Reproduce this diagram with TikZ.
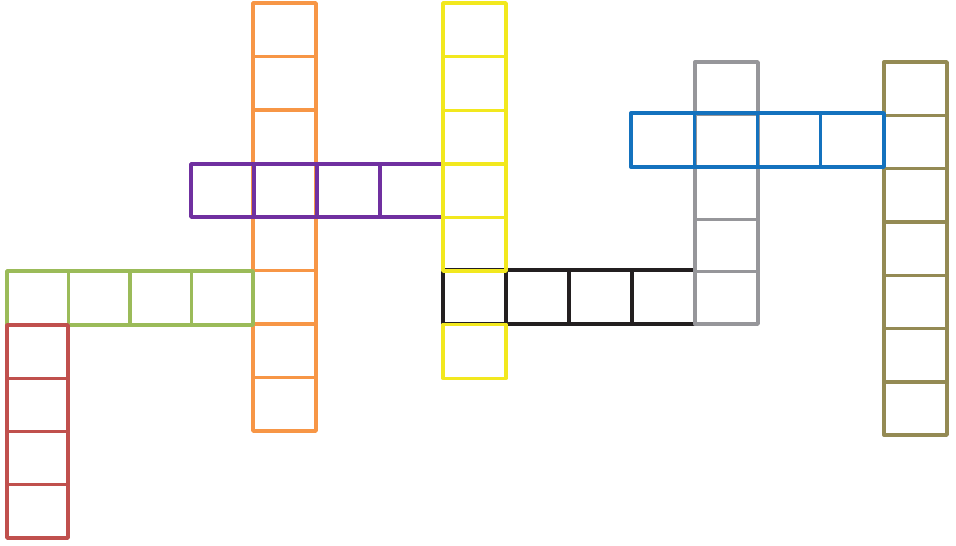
\documentclass[tikz,border=0pt]{standalone}
\usepackage{tikz}
\usetikzlibrary{positioning}
\definecolor{cOr}{RGB}{247,150,70}
\definecolor{cYe}{RGB}{242,232,30}
\definecolor{cPu}{RGB}{112,48,160}
\definecolor{cGr}{RGB}{155,187,89}
\definecolor{cRe}{RGB}{192,80,77}
\definecolor{cBk}{RGB}{35,31,32}
\definecolor{cGy}{RGB}{150,150,154}
\definecolor{cBl}{RGB}{20,114,190}
\definecolor{cOl}{RGB}{148,138,84}
\begin{document}
\begin{tikzpicture}[x=1pt, y=-1pt, cell/.style={line width=3.4pt, line join=round}]

    \useasboundingbox (0, 0) rectangle (956, 546);

    % --- Words: x, y, cells, step x, step y, width, height, colour ---
    \foreach \x/\y/\n/\dx/\dy/\w/\h/\c in {
        253/3/8/0/53.5/63/53.5/cOr,
        191/164/4/63/0/63/53/cPu,
        7/271/4/61.5/0/61.5/54/cGr,
        7/325/4/0/53.25/61/53.25/cRe,
        443/270/4/63/0/63/54/cBk%
    } {
        \foreach \k in {1,...,\n}
            \draw[cell, \c] ({\x+(\k-1)*\dx}, {\y+(\k-1)*\dy}) rectangle +(\w, \h);
    }

    % --- Yellow column (crossing cell left to the black row) ---
    \foreach \k in {0,1,2,3,4,6}
        \draw[cell, cYe] (443, {3+\k*53.6}) rectangle +(63, 53.6);

    % --- Right part ---
    \foreach \x/\y/\n/\dx/\dy/\w/\h/\c in {
        695/62/5/0/52.4/63/52.4/cGy,
        884/62/7/0/53.3/63/53.3/cOl,
        631/113/4/63.25/0/63.25/54/cBl%
    } {
        \foreach \k in {1,...,\n}
            \draw[cell, \c] ({\x+(\k-1)*\dx}, {\y+(\k-1)*\dy}) rectangle +(\w, \h);
    }

\end{tikzpicture}
\end{document}
